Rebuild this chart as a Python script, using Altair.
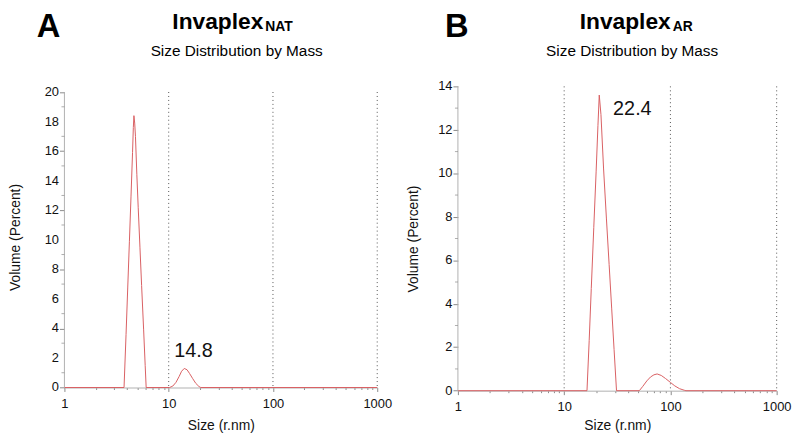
import altair as alt
import pandas as pd

# ---------------- data ----------------
# Panel A (Invaplex NAT): hydrodynamic radius (nm) vs volume (%)
A_SIZE = [1, 3.73, 3.9, 4.05, 4.2, 4.35, 4.5, 4.58, 4.64, 4.72, 4.8, 4.95, 5.1, 5.3, 5.5, 5.75, 5.95, 6.08,
          10.2, 10.96, 11.75, 12.6, 13.3, 14.1, 15.0, 15.85, 17.0, 18.2, 19.5, 20.3, 1000]
A_VOL = [0, 0, 3.6, 6.8, 9.9, 12.9, 15.9, 17.6, 18.4, 17.9, 17.0, 14.4, 12.2, 9.5, 6.9, 3.9, 1.5, 0,
         0, 0.1, 0.35, 0.75, 1.1, 1.29, 1.2, 0.95, 0.6, 0.28, 0.07, 0, 0]

# Panel B (Invaplex AR)
B_SIZE = [1, 16.4, 17.2, 18.0, 19.0, 20.0, 20.8, 21.4, 22.2, 23.5, 25.0, 26.5, 28.0, 29.5, 31.1,
          51, 55, 60, 65, 70, 75, 82, 90, 100, 110, 122, 135, 140, 1000]
B_VOL = [0, 0, 2.3, 4.7, 7.5, 10.1, 12.2, 13.6, 12.7, 10.2, 7.9, 5.8, 3.8, 1.9, 0,
         0, 0.2, 0.45, 0.63, 0.73, 0.77, 0.7, 0.56, 0.38, 0.22, 0.09, 0.02, 0, 0]

A_PEAK_SIZE = [14.1]
A_PEAK_VOL = [1.29]
A_PEAK_TEXT = ["14.8"]
B_PEAK_SIZE = [21.4]
B_PEAK_VOL = [13.6]
B_PEAK_TEXT = ["22.4"]

GRID_SIZES = [10, 100, 1000]
X_TICKS = [1, 2, 3, 4, 5, 6, 7, 8, 9, 10, 20, 30, 40, 50, 60, 70, 80, 90,
           100, 200, 300, 400, 500, 600, 700, 800, 900, 1000]
A_Y_MAJOR = [0, 2, 4, 6, 8, 10, 12, 14, 16, 18, 20]
A_Y_MINOR = [1, 3, 5, 7, 9, 11, 13, 15, 17, 19]
B_Y_MAJOR = [0, 2, 4, 6, 8, 10, 12, 14]
B_Y_MINOR = [1, 3, 5, 7, 9, 11, 13]
A_Y_MAX = 20
B_Y_MAX = 14

FONT = "Liberation Sans"
LINE_COLOR = "#d95f62"
AXIS_GREY = "#b0b0b0"
TICK_GREY = "#8a8a8a"


def panel(sizes, vols, y_major, y_minor, y_max, y_dom_max, width, height,
          peak_size, peak_vol, peak_text, peak_dx, peak_dy,
          letter, sub, letter_x, inv_x, sub_x, subtitle_x, title_pad, xtitle_pad):
    xscale = alt.Scale(type="log", domain=[1, 1000], nice=False)
    yscale = alt.Scale(domain=[0, y_dom_max], nice=False, zero=True)

    major_test = "datum.value == 1 || datum.value == 10 || datum.value == 100 || datum.value == 1000"
    xaxis = alt.Axis(
        values=X_TICKS, format="d",
        labelExpr="(" + major_test + ") ? datum.label : ''",
        tickSize={"condition": {"test": major_test, "value": 4}, "value": 2},
        tickColor=TICK_GREY, domainColor=AXIS_GREY, grid=False,
        labelFont=FONT, labelFontSize=13, labelColor="#111", labelPadding=6,
        labelFlush=False, labelOverlap=False,
        title="Size (r.nm)", titleFont=FONT, titleFontSize=14, titleFontWeight="normal",
        titleColor="#111", titlePadding=xtitle_pad,
    )
    yaxis = alt.Axis(
        values=y_major, tickSize=5, labels=False,
        tickColor=TICK_GREY, domain=False, grid=False,
        title="Volume (Percent)", titleFont=FONT, titleFontSize=14, titleFontWeight="normal",
        titleColor="#111", titlePadding=title_pad,
    )

    df = pd.DataFrame({"size": sizes, "vol": vols})
    line = alt.Chart(df).mark_line(color=LINE_COLOR, strokeWidth=1).encode(
        x=alt.X("size:Q", scale=xscale, axis=xaxis),
        y=alt.Y("vol:Q", scale=yscale, axis=yaxis),
        order=alt.Order("size:Q"),
    )

    grid = alt.Chart(pd.DataFrame({"size": GRID_SIZES})).mark_rule(
        color="#555", strokeWidth=1, strokeDash=[1, 3]
    ).encode(x="size:Q", y=alt.datum(y_max), y2=alt.datum(0))

    yline = alt.Chart(pd.DataFrame({"size": [1]})).mark_rule(
        color=AXIS_GREY, strokeWidth=1
    ).encode(x=alt.value(0), y=alt.datum(y_max), y2=alt.datum(0))

    minor = alt.Chart(pd.DataFrame({"vol": y_minor})).mark_tick(
        orient="horizontal", size=3, thickness=1, color=TICK_GREY
    ).encode(y="vol:Q", x=alt.value(-1.5))

    ylabels = alt.Chart(pd.DataFrame({"vol": y_major})).mark_text(
        align="right", baseline="middle", font=FONT, fontSize=13, color="#111"
    ).encode(y="vol:Q", x=alt.value(-5.5), text=alt.Text("vol:Q", format="d"))

    ann_df = pd.DataFrame({"size": peak_size, "vol": peak_vol, "t": peak_text})
    ann = alt.Chart(ann_df).mark_text(
        align="left", baseline="alphabetic", dx=peak_dx, dy=peak_dy,
        font=FONT, fontSize=20, color="#111"
    ).encode(x="size:Q", y="vol:Q", text="t:N")

    def head(text, x, y, size, weight, align="left"):
        return alt.Chart(pd.DataFrame({"t": [text]})).mark_text(
            align=align, baseline="alphabetic", font=FONT, fontSize=size,
            fontWeight=weight, color="#000"
        ).encode(x=alt.value(x), y=alt.value(y), text="t:N")

    heads = [
        head(letter, letter_x, -50, 33, "bold"),
        head("Invaplex", inv_x, -58, 23, "bold"),
        head(sub, sub_x, -55.5, 14, "bold"),
        head("Size Distribution by Mass", subtitle_x, -30.5, 15.5, "normal", "center"),
    ]

    return alt.layer(line, yline, minor, ylabels, grid, ann, *heads).properties(width=width, height=height)


left = panel(A_SIZE, A_VOL, A_Y_MAJOR, A_Y_MINOR, A_Y_MAX, 20 * 304.2 / 298.5, 316, 304.2,
             A_PEAK_SIZE, A_PEAK_VOL, A_PEAK_TEXT, -10, -12,
             "A", "NAT", -28, 109, 203, 174, 37, 8)
right = panel(B_SIZE, B_VOL, B_Y_MAJOR, B_Y_MINOR, B_Y_MAX, 14, 322, 307.4,
              B_PEAK_SIZE, B_PEAK_VOL, B_PEAK_TEXT, 14, 20,
              "B", "AR", -13, 123, 217, 176, 32, 5)

chart = alt.hconcat(left, right, spacing=14.5).properties(
    padding={"left": 0, "top": 0, "right": 0, "bottom": 0},
    background="white",
).configure_view(stroke="transparent")

chart.save("out.html", embed_options={"renderer": "svg", "actions": False})
